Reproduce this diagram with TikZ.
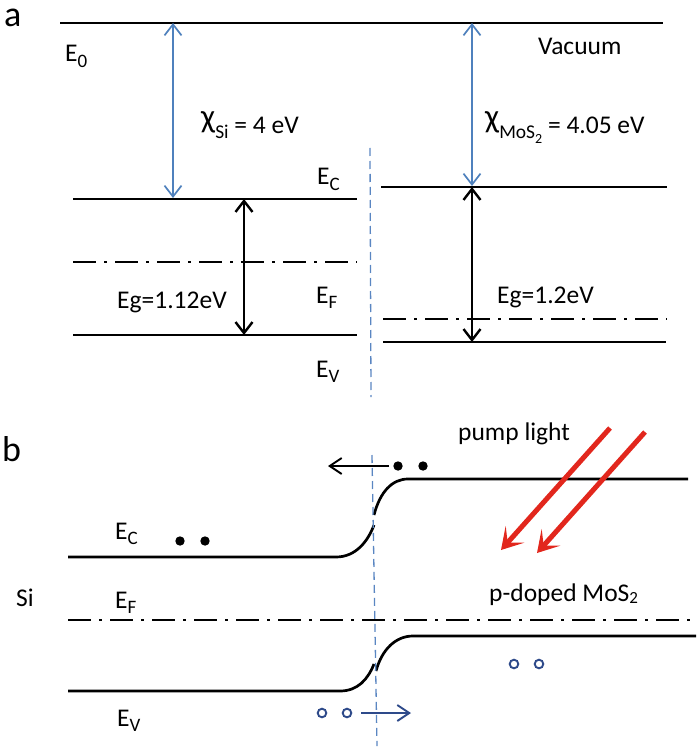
\documentclass[tikz,border=0pt]{standalone}
\usepackage{fontspec}
\setmainfont{Carlito}
\usetikzlibrary{arrows.meta}
\definecolor{arblue}{HTML}{4F81BD}
\definecolor{ifblue}{HTML}{5A86C2}
\definecolor{dkblue}{HTML}{2E4A8A}
\definecolor{pumpred}{HTML}{E2271D}
\newcommand{\sbs}[1]{\raisebox{-0.22em}{\fontsize{19}{19}\selectfont #1}}
\newcommand{\chisym}{\raisebox{6pt}{\fontsize{33}{33}\selectfont χ}}
\begin{document}
\begin{tikzpicture}[x=1pt,y=-1pt,
  lvl/.style={line width=2.7pt,black},
  fermi/.style={line width=2.7pt,black,dash pattern=on 23pt off 8pt on 3pt off 8pt},
  iface/.style={line width=1.3pt,ifblue,dash pattern=on 8pt off 5pt},
  chiarrow/.style={line width=1.7pt,arblue,{Straight Barb[length=11pt,width=17pt]}-{Straight Barb[length=11pt,width=17pt]}},
  gaparrow/.style={line width=2.4pt,black,{Straight Barb[length=11pt,width=17pt]}-{Straight Barb[length=11pt,width=17pt]}},
  lbl/.style={font=\fontsize{25.5}{30}\selectfont,inner sep=0pt,anchor=base west},
  panel/.style={font=\fontsize{36}{40}\selectfont,inner sep=0pt,anchor=base west},
  pump/.style={line width=5pt,pumpred,-{Stealth[length=21pt,width=25pt,inset=11pt]}},
  flow/.style={line width=1.9pt,-{Straight Barb[length=12pt,width=16pt]}},
  hole/.style={line width=1.9pt,dkblue}]
\useasboundingbox (0,0) rectangle (700,751);

% ---------- panel a ----------
\node[panel] (la) at (4,27) {a};
\coordinate (vacL) at (60,23);
\coordinate (vacR) at (663,23);
\draw[lvl] (vacL) -- (vacR);
\node[lbl] (e0) at (65,62) {E\sbs{0}};
\node[lbl] (vac) at (538,55) {Vacuum};

% Si levels
\coordinate (siC) at (73,199);  \coordinate (siCr) at (357,199);
\coordinate (siF) at (73,262);  \coordinate (siFr) at (357,262);
\coordinate (siV) at (73,335);  \coordinate (siVr) at (357,335);
\draw[lvl] (siC) -- (siCr);
\draw[fermi] (siF) -- (siFr);
\draw[lvl] (siV) -- (siVr);

% MoS2 levels
\coordinate (mC) at (381,187);  \coordinate (mCr) at (667,187);
\coordinate (mF) at (383,319);  \coordinate (mFr) at (667,319);
\coordinate (mV) at (383,342);  \coordinate (mVr) at (666,342);
\draw[lvl] (mC) -- (mCr);
\draw[fermi] (mF) -- (mFr);
\draw[lvl] (mV) -- (mVr);

% arrows
\coordinate (a1t) at (173,23);  \coordinate (a1b) at (173,198);
\coordinate (a2t) at (472,23);  \coordinate (a2b) at (472,186);
\draw[chiarrow] (a1t) -- (a1b);
\draw[chiarrow] (a2t) -- (a2b);
\coordinate (g1t) at (244,199); \coordinate (g1b) at (244,335);
\coordinate (g2t) at (472,187); \coordinate (g2b) at (472,342);
\draw[gaparrow] (g1t) -- (g1b);
\draw[gaparrow] (g2t) -- (g2b);

\node[lbl] (chisi) at (201,134) {\chisym\raisebox{-5pt}{\fontsize{19.5}{20}\selectfont Si} = 4 eV};
\node[lbl] (chim) at (485,134) {\chisym\raisebox{-5pt}{\fontsize{19.5}{20}\selectfont MoS\raisebox{-0.25em}{\fontsize{14}{14}\selectfont 2}} = 4.05 eV};
\node[lbl] (ec) at (317,185) {E\sbs{C}};
\node[lbl] (ef) at (316,303) {E\sbs{F}};
\node[lbl] (ev) at (316,377) {E\sbs{V}};
\node[lbl] (eg1) at (117,308) {Eg=1.12eV};
\node[lbl] (eg2) at (497,303) {Eg=1.2eV};

% interface a
\coordinate (ia1) at (370,148);
\coordinate (ia2) at (371,397);
\draw[iface] (ia1) -- (ia2);

% ---------- panel b ----------
\node[panel] (lb) at (2,461) {b};
\node[lbl] (si) at (16,606) {Si};
\node[lbl] (ecb) at (115,539) {E\sbs{C}};
\node[lbl] (efb) at (115,608) {E\sbs{F}};
\node[lbl] (evb) at (117,726) {E\sbs{V}};
\node[lbl] (pl) at (458,440) {pump light};
\node[lbl] (pd) at (489,601) {p-doped MoS\raisebox{-0.08em}{\fontsize{17}{17}\selectfont 2}};

% conduction band
\draw[lvl] (68,557) -- (336,557) .. controls (356,557) and (368,541) .. (374,525);
\draw[lvl] (374,515) .. controls (380,492) and (392,479) .. (408,479) -- (688,479);
% Fermi level
\draw[fermi] (68,620) -- (696,620);
% valence band
\draw[lvl] (68,691) -- (340,691) .. controls (358,691) and (368,679) .. (374,664);
\draw[lvl] (376,671) .. controls (382,649) and (396,636) .. (413,636) -- (696,636);

% interface b
\coordinate (ib1) at (372,455);
\coordinate (ib2) at (377,746);
\draw[iface] (ib1) -- (ib2);

% electrons
\fill (180,541) circle (4.7pt);
\fill (205,541) circle (4.7pt);
\fill (398,466) circle (4.7pt);
\fill (423,466) circle (4.7pt);
\coordinate (eA) at (389,466);
\coordinate (eB) at (328,466);
\draw[flow,black] (eA) -- (eB);

% holes
\draw[hole] (322,713) circle (4.3pt);
\draw[hole] (347,713) circle (4.3pt);
\draw[hole] (514,664) circle (4.3pt);
\draw[hole] (539,664) circle (4.3pt);
\coordinate (hA) at (361,713);
\coordinate (hB) at (411,713);
\draw[flow,dkblue] (hA) -- (hB);

% pump light
\coordinate (p1a) at (610,428); \coordinate (p1b) at (501,550);
\coordinate (p2a) at (645,432); \coordinate (p2b) at (537,553);
\draw[pump] (p1a) -- (p1b);
\draw[pump] (p2a) -- (p2b);
\end{tikzpicture}
\end{document}
